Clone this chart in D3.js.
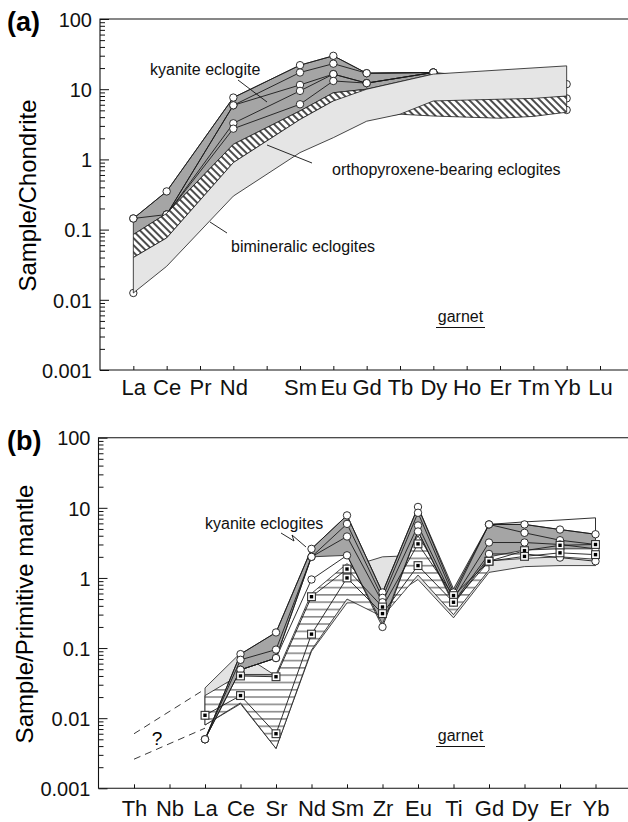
<!DOCTYPE html>
<html>
<head>
<meta charset="utf-8">
<title>garnet REE and trace element patterns</title>
<script src="https://cdn.jsdelivr.net/npm/d3@7/dist/d3.min.js"></script>
<style>
  body { margin: 0; background: #fff; }
  svg { display: block; font-family: "Liberation Sans", Arial, sans-serif; }
  .band { stroke: #1a1a1a; stroke-width: 0.8; stroke-linejoin: round; }
  .sample { fill: none; stroke: #1a1a1a; stroke-width: 0.9; }
  .lbl { font-size: 16px; fill: #111; }
  .tick text { font-size: 20px; fill: #111; }
  .xax .tick text { font-size: 22px; }
  .tick line { stroke: #111; stroke-width: 1; }
</style>
</head>
<body>
<svg id="chart" width="628" height="822"></svg>
<script>
// ---------- panel (a): garnet / chondrite ----------
const elemA = ["La", "Ce", "Pr", "Nd", "", "Sm", "Eu", "Gd", "Tb", "Dy", "Ho", "Er", "Tm", "Yb", "Lu"];
//                La     Ce    Pr    Nd    Pm    Sm    Eu    Gd    Tb    Dy    Ho    Er    Tm    Yb    Lu
const kyUpA  = [0.144, 0.35, null, 7.6,  null, 22,   29.9, 16.9, null, 17.3, null, null, null, null, null];
const kyLoA  = [0.085, 0.17, null, 1.64, null, 4.9,  8.9,  10,   null, 16.4, null, null, null, null, null];
const opxUpA = [0.085, 0.17, null, 1.64, null, 4.9,  8.9,  10,   null, 8,    null, null, null, 8,    null];
const opxLoA = [0.04, 0.076, null, 0.9,  null, 3.7,  6.8,  3.8,  4.4,  4.15, 4.0,  3.86, 4.1,  4.7,  null];
const bimUpA = [0.04, 0.076, null, 0.9,  null, 3.7,  6.8,  10,   null, 16.4, null, null, null, 21.5, null];
const bimLoA = [0.0125, 0.03, null, 0.3, null, 1.25, 2.04, 3.5,  4.4,  6.8,  7.0,  7.2,  7.4,  8.0,  null];
// kyanite eclogite samples (circles)
const kyA1 = [0.144, 0.35,  null, 7.6,  null, 22,   29.9, 16.9, null, 17.3, null, null, null, 11.8, null];
const kyA2 = [0.144, 0.164, null, 5.9,  null, 17.3, 23.1, 16.9, null, 17.3, null, null, null, 7.4,  null];
const kyA3 = [null,  0.164, null, 5.9,  null, 11.5, 16.4, 12.2, null, 17.3, null, null, null, 5.06, null];
const kyA4 = [null,  0.164, null, 3.27, null, 9.46, 16.4, 12.2, null, 17.3, null, null, null, null, null];
const kyA5 = [0.0125, 0.164, null, 2.74, null, 6.1, 13.1, 12.2, null, 17.3, null, null, null, null, null];

// ---------- panel (b): garnet / primitive mantle ----------
const elemB = ["Th", "Nb", "La", "Ce", "Sr", "Nd", "Sm", "Zr", "Eu", "Ti", "Gd", "Dy", "Er", "Yb"];
//                Th    Nb    La      Ce      Sr      Nd     Sm    Zr    Eu    Ti    Gd    Dy    Er    Yb
const kyUpB   = [null, null, 0.005,  0.082,  0.167,  2.6,   7.8,  0.62, 10.3, 0.7,  5.8,  5.8,  4.9,  4.2];
const kyLoB   = [null, null, 0.005,  0.049,  0.072,  2.0,   2.1,  0.22, 4.6,  0.42, 2.0,  2.5,  2.6,  2.6];
const kyTopB  = [null, null, null,   null,   null,   null,  null, null, null, null, 5.8,  6.3,  6.7,  7.2];
const hatchUpB = [null, null, 0.021, 0.042,  0.042,  0.6,   1.6,  0.6,  4.0,  0.62, 1.8,  null, null, null];
const hatchLoB = [null, null, 0.008, 0.0165, 0.0037, 0.094, 0.5,  0.28, 1.1,  0.3,  1.3,  null, null, null];
const greyUpB = [null, null, 0.027,  0.085,  0.04,   0.5,   1.4,  2.0,  2.1,  0.7,  1.75, 1.9,  2.0,  1.85];
const greyLoB = [null, null, 0.008,  0.016,  0.0037, 0.09,  0.44, 0.45, 0.95, 0.27, 1.2,  1.45, 1.5,  1.5];
// kyanite eclogites (circles)
const kyB1 = [null, null, 0.005, 0.082, 0.167, 2.6,  7.8, 0.62, 10.3, 0.62, 5.8, 5.8, 4.9,  4.2];
const kyB2 = [null, null, 0.005, 0.068, 0.095, 2.0,  5.9, 0.52, 8.5,  0.55, 5.8, 4.4, 3.45, 3.0];
const kyB3 = [null, null, null,  0.049, 0.072, 2.0,  3.9, 0.45, 5.6,  0.5,  3.2, 3.2, 3.0,  2.6];
const kyB4 = [null, null, 0.005, 0.049, 0.072, 0.95, 2.1, 0.2,  4.6,  0.45, 2.2, 2.2, 1.95, 1.73];
// other garnets (squares)
const sqB1 = [null, null, null,  0.040, 0.039, 0.54,  1.34, 0.385, 3.06, 0.56, 1.73, 2.45, 2.92, 3.0];
const sqB2 = [null, null, 0.011, 0.021, 0.006, 0.158, 1.0,  0.31,  1.5,  0.45, 1.73, 2.03, 2.28, 2.15];
// extrapolation towards Th
const dashUpB = [0.006,  null, 0.026];
const dashLoB = [0.0026, null, 0.0072];

const decades = [0.001, 0.01, 0.1, 1, 10, 100];

const svg = d3.select("#chart");
const defs = svg.append("defs");

// diagonal hatch (a) and horizontal hatch (b)
const diag = defs.append("pattern").attr("id", "diag")
    .attr("patternUnits", "userSpaceOnUse").attr("width", 5).attr("height", 5)
    .attr("patternTransform", "rotate(-45)");
diag.append("rect").attr("width", 5).attr("height", 5).attr("fill", "#fff");
diag.append("line").attr("x1", 1).attr("y1", 0).attr("x2", 1).attr("y2", 5)
    .attr("stroke", "#111").attr("stroke-width", 1.5);

const horiz = defs.append("pattern").attr("id", "horiz")
    .attr("patternUnits", "userSpaceOnUse").attr("width", 10).attr("height", 7.3);
horiz.append("rect").attr("width", 10).attr("height", 7.3).attr("fill", "#fff");
horiz.append("line").attr("x1", 0).attr("y1", 3.6).attr("x2", 10).attr("y2", 3.6)
    .attr("stroke", "#222").attr("stroke-width", 0.9);

const pts = arr => arr.map((v, i) => [i + 1, v]).filter(p => p[1] != null);

function panel(opt) {
    const g = svg.append("g");
    const x = d3.scaleLinear().domain([0, opt.n]).range([opt.left, opt.xEnd]);
    const y = d3.scaleLog().domain([0.001, 100]).range([opt.bottom, opt.top]);
    const line = d3.line().x(d => x(d[0])).y(d => y(d[1]));

    g.band = (up, lo, fill) => g.append("path").attr("class", "band")
        .attr("d", line(pts(up).concat(pts(lo).reverse())) + "Z")
        .attr("fill", fill);
    g.sample = arr => g.append("path").attr("class", "sample").attr("d", line(pts(arr)));
    g.circles = arr => g.append("g").selectAll("circle").data(pts(arr)).join("circle")
        .attr("cx", d => x(d[0])).attr("cy", d => y(d[1])).attr("r", 3.7)
        .attr("fill", "#fff").attr("stroke", "#1a1a1a").attr("stroke-width", 0.9);
    g.squares = arr => {
        const s = g.append("g").selectAll("g").data(pts(arr)).join("g")
            .attr("transform", d => `translate(${x(d[0])},${y(d[1])})`);
        s.append("rect").attr("x", -3.9).attr("y", -3.9).attr("width", 7.8).attr("height", 7.8)
            .attr("fill", "#fff").attr("stroke", "#333").attr("stroke-width", 1.1);
        s.append("rect").attr("x", -1.7).attr("y", -1.7).attr("width", 3.4).attr("height", 3.4)
            .attr("fill", "#000");
    };
    g.axes = () => {
        const minors = [];
        decades.slice(0, -1).forEach(d => d3.range(2, 10).forEach(k => minors.push(d * k)));
        g.append("g").attr("transform", `translate(${opt.left},0)`)
            .call(d3.axisLeft(y).tickValues(minors).tickSize(-5).tickFormat(""))
            .call(a => a.select(".domain").remove());
        g.append("g").attr("transform", `translate(${opt.left},0)`)
            .call(d3.axisLeft(y).tickValues(decades).tickSize(-9).tickPadding(8)
                .tickFormat(d => String(d)))
            .call(a => a.select(".domain").remove())
            .selectAll("text").attr("dy", "0.36em");
        g.append("g").attr("class", "xax").attr("transform", `translate(0,${opt.bottom})`)
            .call(d3.axisBottom(x).tickValues(d3.range(1, opt.n + 1)).tickSize(-4)
                .tickPadding(opt.labelPad).tickFormat(d => opt.labels[d - 1]))
            .call(a => a.select(".domain").remove());
        // frame: left axis, bottom axis and top rule run to the page edge
        g.append("path").attr("fill", "none").attr("stroke", "#111").attr("stroke-width", 1.1)
            .attr("d", `M628,${opt.top}H${opt.left}V${opt.bottom}H628`);
        g.append("text").attr("x", 7).attr("y", opt.top + 12)
            .attr("font-size", 27).attr("font-weight", "bold").text(opt.tag);
        g.append("text").attr("transform", `translate(${opt.titleX},${(opt.top + opt.bottom) / 2 + 1}) rotate(-90)`)
            .attr("text-anchor", "middle").attr("dominant-baseline", "central")
            .attr("font-size", 24).text(opt.title);
    };
    g.x = x; g.y = y; g.line = line;
    return g;
}

const leader = (g, d) => g.append("path").attr("d", d).attr("fill", "none")
    .attr("stroke", "#111").attr("stroke-width", 0.9);
const garnet = (g, cx, base) => {
    g.append("text").attr("class", "lbl").attr("x", cx).attr("y", base)
        .attr("text-anchor", "middle").attr("font-size", 17).text("garnet");
    g.append("line").attr("x1", cx - 24.5).attr("x2", cx + 24.5)
        .attr("y1", base + 5.5).attr("y2", base + 5.5).attr("stroke", "#111").attr("stroke-width", 1);
};

// ----- draw (a)
const A = panel({ n: 15, left: 100, xEnd: 600, top: 19, bottom: 370, labels: elemA,
    labelPad: 9.5, tag: "(a)", title: "Sample/Chondrite", titleX: 27 });
A.band(kyUpA, kyLoA, "#a5a5a5");
[kyA1, kyA2, kyA3, kyA4, kyA5].forEach(A.sample);
[kyA1, kyA2, kyA3, kyA4, kyA5].forEach(A.circles);
A.band(opxUpA, opxLoA, "url(#diag)");
A.band(bimUpA, bimLoA, "#e5e5e5");
A.axes();
A.append("text").attr("class", "lbl").attr("x", 150).attr("y", 75).text("kyanite eclogite");
leader(A, "M238,80L267,102");
A.append("text").attr("class", "lbl").attr("x", 332).attr("y", 175).text("orthopyroxene-bearing eclogites");
leader(A, "M267,145L312,163");
A.append("text").attr("class", "lbl").attr("x", 231).attr("y", 251.5).text("bimineralic eclogites");
leader(A, "M210,222L227,233");
garnet(A, 460.5, 322);

// ----- draw (b)
const B = panel({ n: 14, left: 98.5, xEnd: 595.5, top: 437.7, bottom: 788.3, labels: elemB,
    labelPad: 12.5, tag: "(b)", title: "Sample/Primitive mantle", titleX: 24 });
B.band(greyUpB, greyLoB, "#e3e3e3");
B.band(hatchUpB, hatchLoB, "url(#horiz)");
B.band(kyUpB, kyLoB, "#a5a5a5");
B.append("path").attr("class", "sample")
    .attr("d", B.line(pts(kyTopB).concat([[14, kyB1[13]]])));
[sqB1, sqB2, kyB1, kyB2, kyB3, kyB4].forEach(B.sample);
[kyB1, kyB2, kyB3, kyB4].forEach(B.circles);
[sqB1, sqB2].forEach(B.squares);
[dashUpB, dashLoB].forEach(arr => B.append("path").attr("d", B.line(pts(arr)))
    .attr("fill", "none").attr("stroke", "#222").attr("stroke-width", 0.9)
    .attr("stroke-dasharray", "7,5"));
B.append("text").attr("x", 157).attr("y", 745).attr("text-anchor", "middle")
    .attr("font-size", 19).text("?");
B.axes();
B.append("text").attr("class", "lbl").attr("x", 205).attr("y", 528.5).text("kyanite eclogites");
leader(B, "M281,533L294,541L292,535L306,547");
garnet(B, 460.5, 741);
</script>
</body>
</html>
